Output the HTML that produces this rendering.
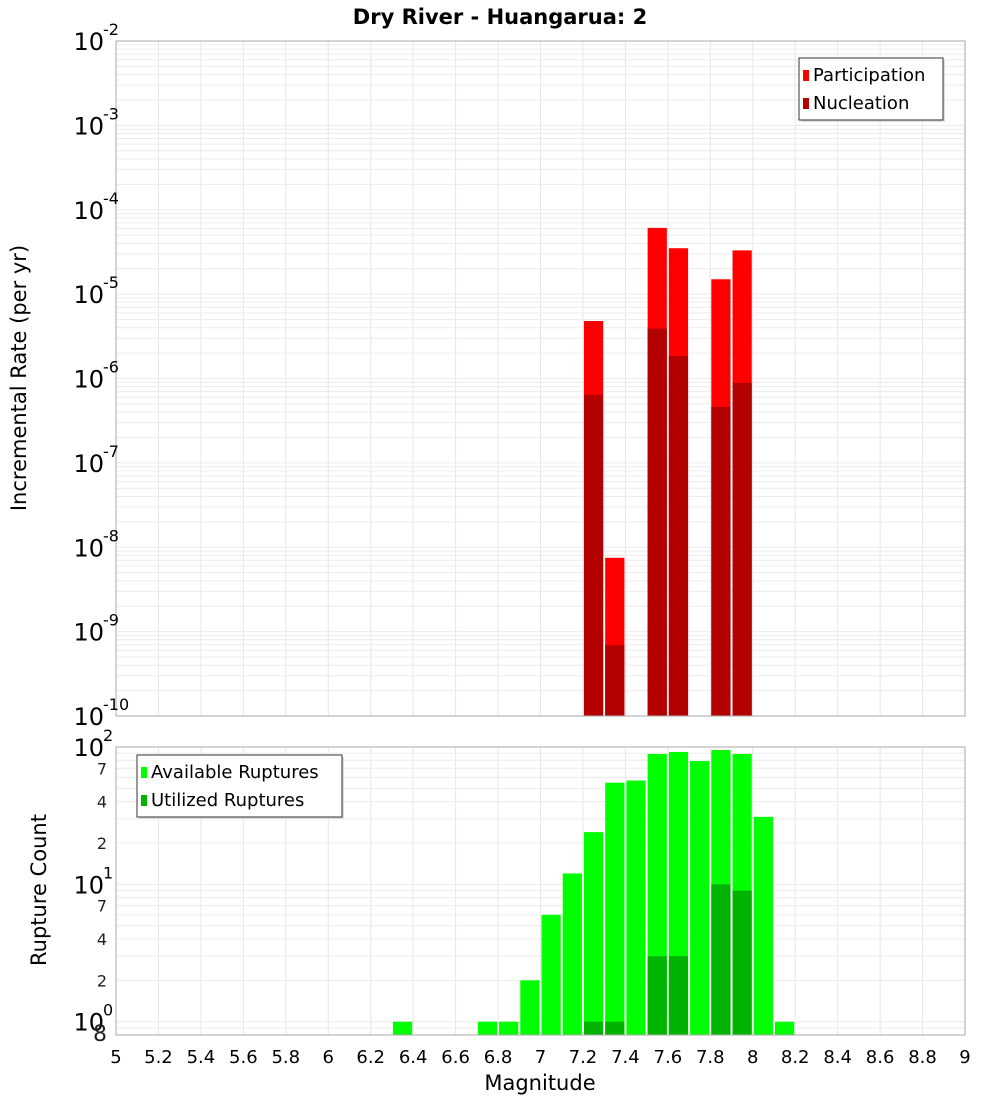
<!DOCTYPE html>
<html><head><meta charset="utf-8"><style>
body{margin:0;background:#fff;font-family:"DejaVu Sans","Liberation Sans",sans-serif}
svg text{font-family:"DejaVu Sans","Liberation Sans",sans-serif}
</style></head><body>
<svg id="chart" width="1000" height="1100" xmlns="http://www.w3.org/2000/svg"></svg>
<script>
const topMags = [7.25, 7.35, 7.55, 7.65, 7.85, 7.95];
const participation = [4.8e-6, 7.5e-9, 6.1e-5, 3.5e-5, 1.5e-5, 3.3e-5];
const nucleation = [6.4e-7, 6.9e-10, 3.9e-6, 1.85e-6, 4.6e-7, 8.9e-7];
const botMags = [6.35, 6.75, 6.85, 6.95, 7.05, 7.15, 7.25, 7.35, 7.45, 7.55, 7.65, 7.75, 7.85, 7.95, 8.05, 8.15];
const available = [1, 1, 1, 2, 6, 12, 24, 55, 57, 89, 92, 79, 95, 89, 31, 1];
const utilMags = [7.25, 7.35, 7.55, 7.65, 7.85, 7.95];
const utilized = [1, 1, 3, 3, 10, 9];
const xTicks = ["5","5.2","5.4","5.6","5.8","6","6.2","6.4","6.6","6.8","7","7.2","7.4","7.6","7.8","8","8.2","8.4","8.6","8.8","9"];
const topExps = [-2,-3,-4,-5,-6,-7,-8,-9,-10];

const svg = document.getElementById('chart');
const NS = 'http://www.w3.org/2000/svg';
function mk(tag, attrs, parent){const e=document.createElementNS(NS,tag);for(const k in attrs)e.setAttribute(k,attrs[k]);(parent||svg).appendChild(e);return e;}
const L=116,R=965, T1=41,B1=716, T2=747,B2=1035;
const xs = m => L + (m-5)/4*(R-L);
const y1 = v => T1 + (-2 - Math.log10(v))/8*(B1-T1);
const lmin=Math.log10(0.8), lmax=2;
const y2 = v => B2 - (Math.log10(v)-lmin)/(lmax-lmin)*(B2-T2);
const bw = 0.1/4*(R-L);

// grids
const g = mk('g',{});


xTicks.forEach(t=>{const x=xs(+t);
  mk('line',{x1:x,x2:x,y1:T1,y2:B1,stroke:'#e6e6e6'},g);
  mk('line',{x1:x,x2:x,y1:T2,y2:B2,stroke:'#e6e6e6'},g);});
for(let e=-10;e<-2;e++)for(let k=1;k<10;k++){const y=y1(k*Math.pow(10,e));if(y>=T1&&y<=B1)mk('line',{x1:L,x2:R,y1:y,y2:y,stroke:'#ececec'},g);}
for(let e=-1;e<2;e++)for(let k=1;k<10;k++){const v=k*Math.pow(10,e);const y=y2(v);if(y>=T2&&y<=B2)mk('line',{x1:L,x2:R,y1:y,y2:y,stroke:'#ececec'},g);}

// top bars
topMags.forEach((m,i)=>{
  const x=xs(m)-bw/2+1;
  const p=mk('rect',{x:x,y:y1(participation[i]),width:bw-2,height:B1-y1(participation[i]),fill:'#ff0000'});
  
  
  const n=mk('rect',{x:x,y:y1(nucleation[i]),width:bw-2,height:B1-y1(nucleation[i]),fill:'#b30000'});
  
  
});
// bottom bars
botMags.forEach((m,i)=>{
  const x=xs(m)-bw/2+1;
  const r=mk('rect',{x:x,y:y2(available[i]),width:bw-2,height:B2-y2(available[i]),fill:'#00ff00'});
  
  
});
utilMags.forEach((m,i)=>{
  const x=xs(m)-bw/2+1;
  const r=mk('rect',{x:x,y:y2(utilized[i]),width:bw-2,height:B2-y2(utilized[i]),fill:'#00b300'});
  
  
});

// frames
mk('rect',{x:L,y:T1,width:R-L,height:B1-T1,fill:'none',stroke:'#aaa'});
mk('rect',{x:L,y:T2,width:R-L,height:B2-T2,fill:'none',stroke:'#aaa'});

// x ticks
xTicks.forEach(t=>{const tx=mk('text',{x:xs(+t),y:1063,'text-anchor':'middle','font-size':18});tx.textContent=t;
  
  });
// top y ticks
topExps.forEach(e=>{const y=y1(Math.pow(10,e));
  const t=mk('text',{x:104,y:y+9,'text-anchor':'end','font-size':24});t.textContent='10';
  
  
  const s=mk('text',{x:103,y:y-6,'font-size':16});s.textContent=String(e);
  
  });
// bottom y ticks
[[100,'2'],[10,'1'],[1,'0']].forEach(([v,e])=>{const y=y2(v);
  const t=mk('text',{x:104,y:y+9,'text-anchor':'end','font-size':24});t.textContent='10';
  
  
  const s=mk('text',{x:103,y:y-6,'font-size':16});s.textContent=e;
  
  });
[[70,'7'],[40,'4'],[20,'2'],[7,'7'],[4,'4'],[2,'2'],[0.8,'8']].forEach(([v,l])=>{const y=y2(v);
  const t=mk('text',{x:107,y:y+6,'text-anchor':'end','font-size':v==0.8?22:16,fill:'#222'});t.textContent=l;
  
  });

// titles
let t=mk('text',{x:500,y:24,'text-anchor':'middle','font-size':21,'font-weight':'bold'});t.textContent='Dry River - Huangarua: 2';

t=mk('text',{x:540,y:1090,'text-anchor':'middle','font-size':21});t.textContent='Magnitude';

t=mk('text',{x:0,y:0,'text-anchor':'middle','font-size':21,transform:'translate(26,378) rotate(-90)'});t.textContent='Incremental Rate (per yr)';

t=mk('text',{x:0,y:0,'text-anchor':'middle','font-size':21,transform:'translate(46,890) rotate(-90)'});t.textContent='Rupture Count';


// legends
function legend(x,y,w,items,name){
  const lg=mk('g',{});
  
  
  mk('rect',{x:x+2,y:y+2,width:w,height:items.length*28+6,fill:'#ddd'},lg);
  mk('rect',{x:x,y:y,width:w,height:items.length*28+6,fill:'#fff',stroke:'#333'},lg);
  items.forEach(([c,l],i)=>{
    mk('rect',{x:x+4,y:y+12+i*28,width:6,height:11,fill:c},lg);
    const tt=mk('text',{x:x+14,y:y+23+i*28,'font-size':18},lg);tt.textContent=l;
  });
}
legend(799,58,144,[['#ff0000','Participation'],['#b30000','Nucleation']],'legend-top');
legend(137,755,205,[['#00ff00','Available Ruptures'],['#00b300','Utilized Ruptures']],'legend-bottom');
</script>
</body></html>
